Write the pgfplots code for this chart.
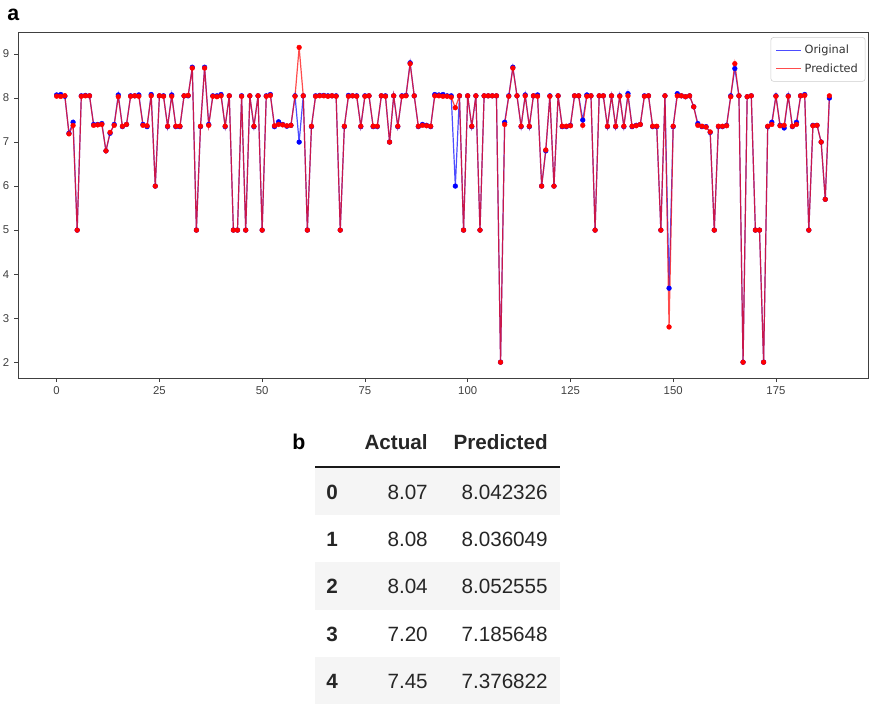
\documentclass[border=0pt]{standalone}
\usepackage{fontspec}
\setmainfont{Liberation Sans}
\newfontfamily\dejavu{DejaVu Sans}
\usepackage{pgfplots}
\usepackage{pgfplotstable}
\pgfplotsset{compat=1.18}

% index, original, predicted
\pgfplotstableread{
x orig pred
0 8.07 8.042
1 8.08 8.036
2 8.04 8.053
3 7.20 7.186
4 7.45 7.377
5 5.00 5.00
6 8.05 8.04
7 8.06 8.05
8 8.05 8.05
9 7.40 7.38
10 7.40 7.39
11 7.42 7.40
12 6.80 6.80
13 7.20 7.22
14 7.40 7.38
15 8.07 8.03
16 7.35 7.36
17 7.40 7.40
18 8.05 8.04
19 8.05 8.05
20 8.07 8.04
21 7.40 7.38
22 7.35 7.37
23 8.08 8.05
24 6.00 6.00
25 8.05 8.05
26 8.05 8.04
27 7.35 7.36
28 8.07 8.04
29 7.35 7.36
30 7.35 7.36
31 8.05 8.05
32 8.05 8.06
33 8.70 8.68
34 5.00 5.00
35 7.35 7.36
36 8.70 8.68
37 7.40 7.38
38 8.05 8.04
39 8.05 8.03
40 8.08 8.05
41 7.35 7.36
42 8.05 8.05
43 5.00 5.00
44 5.00 5.00
45 8.05 8.04
46 5.00 5.00
47 8.05 8.05
48 7.35 7.36
49 8.05 8.05
50 5.00 5.00
51 8.05 8.04
52 8.08 8.06
53 7.35 7.37
54 7.46 7.40
55 7.40 7.39
56 7.36 7.37
57 7.38 7.38
58 8.05 8.04
59 7.00 9.15
60 8.05 8.05
61 5.00 5.00
62 7.35 7.36
63 8.05 8.04
64 8.06 8.05
65 8.06 8.05
66 8.05 8.04
67 8.05 8.05
68 8.05 8.04
69 5.00 5.00
70 7.35 7.36
71 8.06 8.04
72 8.05 8.05
73 8.05 8.04
74 7.35 7.36
75 8.05 8.04
76 8.05 8.05
77 7.35 7.36
78 7.35 7.36
79 8.05 8.05
80 8.05 8.04
81 7.00 7.00
82 8.05 8.05
83 7.35 7.36
84 8.05 8.04
85 8.06 8.05
86 8.80 8.78
87 8.05 8.05
88 7.35 7.36
89 7.40 7.38
90 7.38 7.37
91 7.35 7.36
92 8.08 8.05
93 8.07 8.05
94 8.08 8.04
95 8.05 8.04
96 8.05 8.02
97 6.00 7.78
98 8.05 8.05
99 5.00 5.00
100 8.05 8.05
101 7.35 7.36
102 8.05 8.05
103 5.00 5.00
104 8.05 8.05
105 8.05 8.05
106 8.05 8.05
107 8.05 8.05
108 2.00 2.00
109 7.45 7.40
110 8.05 8.04
111 8.70 8.68
112 8.05 8.05
113 7.35 7.36
114 8.07 8.05
115 7.35 7.36
116 8.05 8.05
117 8.07 8.04
118 6.00 6.00
119 6.80 6.82
120 8.05 8.04
121 6.00 6.00
122 8.05 8.05
123 7.35 7.36
124 7.35 7.36
125 7.38 7.37
126 8.05 8.05
127 8.05 8.05
128 7.50 7.38
129 8.07 8.04
130 8.05 8.05
131 5.00 5.00
132 8.05 8.05
133 8.05 8.05
134 7.35 7.36
135 8.05 8.05
136 7.35 7.36
137 8.05 8.04
138 7.35 7.36
139 8.10 8.05
140 7.35 7.36
141 7.38 7.37
142 7.40 7.40
143 8.05 8.04
144 8.05 8.05
145 7.35 7.36
146 7.35 7.36
147 5.00 5.00
148 8.05 8.05
149 3.68 2.80
150 7.35 7.36
151 8.10 8.05
152 8.05 8.05
153 8.03 8.03
154 8.05 8.05
155 7.80 7.80
156 7.42 7.38
157 7.35 7.36
158 7.35 7.34
159 7.22 7.23
160 5.00 5.00
161 7.35 7.36
162 7.35 7.36
163 7.38 7.37
164 8.05 8.03
165 8.67 8.78
166 8.05 8.05
167 2.00 2.00
168 8.03 8.03
169 8.05 8.05
170 5.00 5.00
171 5.00 5.00
172 2.00 2.00
173 7.35 7.36
174 7.45 7.40
175 8.05 8.04
176 7.38 7.37
177 7.32 7.38
178 8.05 8.04
179 7.35 7.36
180 7.45 7.40
181 8.05 8.05
182 8.08 8.06
183 5.00 5.00
184 7.38 7.37
185 7.38 7.38
186 7.00 7.00
187 5.70 5.70
188 8.00 8.05
}\series

\begin{document}
\begin{tikzpicture}
\begin{axis}[
    at={(18*0.75pt,-32*0.75pt)}, anchor=north west,
    scale only axis,
    width=850*0.75pt, height=346*0.75pt,
    xmin=-9.4, xmax=197.4,
    ymin=1.64, ymax=9.5,
    xtick={0,25,...,175},
    ytick={2,...,9},
    tick pos=left,
    tick align=outside,
    major tick length=3pt,
    axis line style={black!75, line width=0.6pt},
    every tick/.style={black!75, line width=0.6pt},
    ticklabel style={font=\fontsize{8.5}{10}\selectfont, text=black!75},
    /pgf/number format/assume math mode=true,
    legend style={at={(0.997,0.985)}, anchor=north east,
        draw=black!20, rounded corners=2pt, fill=white,
        font=\dejavu\fontsize{8.5}{10}\selectfont, text=black!80,
        row sep=2pt, inner sep=3.5pt},
    legend cell align=left,
    legend image code/.code={\draw[#1] (0pt,0pt) -- (19pt,0pt);},
]
\addplot[blue, draw opacity=0.7, line width=0.9pt, mark=*, mark size=1.8pt,
    mark options={draw opacity=1, fill opacity=1, line width=0.3pt}, forget plot]
    table[x=x, y=orig] {\series};
\addplot[red, draw opacity=0.7, line width=0.9pt, mark=*, mark size=1.8pt,
    mark options={draw opacity=1, fill opacity=1, line width=0.3pt}, forget plot]
    table[x=x, y=pred] {\series};
\addlegendimage{blue, draw opacity=0.7, line width=0.8pt}
\addlegendentry{Original}
\addlegendimage{red, draw opacity=0.7, line width=0.8pt}
\addlegendentry{Predicted}
\end{axis}

% panel labels and the table below the chart
\begin{scope}[x=0.75pt, y=-0.75pt]
\node[anchor=base west, inner sep=0pt, font=\bfseries\fontsize{16}{19}\selectfont] at (7,20) {a};
\node[anchor=base, inner sep=0pt, font=\bfseries\fontsize{16}{19}\selectfont] at (299,449) {b};

\fill[black!4] (315,468) rectangle (560,515);
\fill[black!4] (315,562) rectangle (560,610);
\fill[black!4] (315,657) rectangle (560,704);

\begin{scope}[every node/.style={inner sep=0pt, text=black!85, font=\fontsize{15.5}{18}\selectfont}]
\node[anchor=base east, font=\bfseries\fontsize{15.5}{18}\selectfont] at (428,449) {Actual};
\node[anchor=base east, font=\bfseries\fontsize{15.5}{18}\selectfont] at (548,449) {Predicted};
\draw[black!90, line width=1.2pt] (315,467) -- (560,467);

\node[anchor=base west, font=\bfseries\fontsize{15.5}{18}\selectfont] at (326,499) {0};
\node[anchor=base east] at (428,499) {8.07};
\node[anchor=base east] at (548,499) {8.042326};

\node[anchor=base west, font=\bfseries\fontsize{15.5}{18}\selectfont] at (326,546) {1};
\node[anchor=base east] at (428,546) {8.08};
\node[anchor=base east] at (548,546) {8.036049};

\node[anchor=base west, font=\bfseries\fontsize{15.5}{18}\selectfont] at (326,593) {2};
\node[anchor=base east] at (428,593) {8.04};
\node[anchor=base east] at (548,593) {8.052555};

\node[anchor=base west, font=\bfseries\fontsize{15.5}{18}\selectfont] at (326,641) {3};
\node[anchor=base east] at (428,641) {7.20};
\node[anchor=base east] at (548,641) {7.185648};

\node[anchor=base west, font=\bfseries\fontsize{15.5}{18}\selectfont] at (326,688) {4};
\node[anchor=base east] at (428,688) {7.45};
\node[anchor=base east] at (548,688) {7.376822};
\end{scope}

\pgfresetboundingbox
\path[use as bounding box] (0,0) rectangle (871,704);
\end{scope}
\end{tikzpicture}
\end{document}
